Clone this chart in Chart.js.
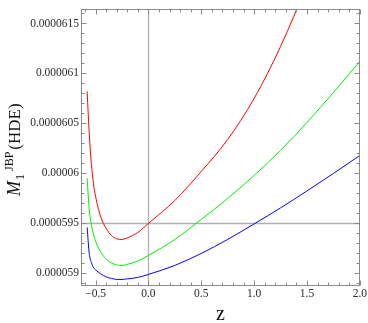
<!DOCTYPE html>
<html>
<head>
<meta charset="utf-8">
<script src="https://cdn.jsdelivr.net/npm/chart.js@4"></script>
<style>
  html, body { margin: 0; padding: 0; background: #fff; }
  canvas { display: block; }
</style>
</head>
<body>
<canvas id="chart" width="368" height="323"></canvas>
<script>
// ===== DATA =====
const zValues = [-0.58, -0.56, -0.54, -0.52, -0.5, -0.45, -0.4, -0.35, -0.3, -0.25, -0.2, -0.1,
                 0, 0.25, 0.5, 0.75, 1.0, 1.25, 1.5, 1.75, 2.0];

const redSeries = [6.082e-5, 6.040e-5, 6.010e-5, 5.990e-5, 5.977e-5, 5.956e-5, 5.945e-5, 5.938e-5,
                   5.9345e-5, 5.934e-5, 5.9355e-5, 5.941e-5, 5.950e-5, 5.973e-5, 6.002e-5, 6.034e-5,
                   6.075e-5, 6.127e-5, 6.190e-5, 6.265e-5, 6.350e-5];

const greenSeries = [5.995e-5, 5.964e-5, 5.949e-5, 5.939e-5, 5.932e-5, 5.921e-5, 5.9145e-5, 5.9105e-5,
                     5.9085e-5, 5.908e-5, 5.909e-5, 5.9125e-5, 5.918e-5, 5.934e-5, 5.954e-5, 5.975e-5,
                     5.998e-5, 6.023e-5, 6.051e-5, 6.081e-5, 6.112e-5];

const blueSeries = [5.946e-5, 5.920e-5, 5.911e-5, 5.906e-5, 5.9035e-5, 5.8995e-5, 5.8965e-5, 5.895e-5,
                    5.894e-5, 5.894e-5, 5.8945e-5, 5.896e-5, 5.899e-5, 5.908e-5, 5.920e-5, 5.934e-5,
                    5.9495e-5, 5.9655e-5, 5.9825e-5, 6.000e-5, 6.018e-5];

const xTickValues = [-0.5, 0, 0.5, 1, 1.5, 2];
const xTickLabels = ['\u22120.5', '0.0', '0.5', '1.0', '1.5', '2.0'];
const yTickValues = [5.9e-5, 5.95e-5, 6.0e-5, 6.05e-5, 6.1e-5, 6.15e-5];
const yTickLabels = ['0.000059', '0.0000595', '0.00006', '0.0000605', '0.000061', '0.0000615'];

// reference axes drawn through the plot
const axisZ = 0;
const axisM = 5.95e-5;

// ===== FRAME / TICKS / TITLES =====
const FRAME_COLOR = '#8a8a8a';
const SERIF = 'Liberation Serif';
Chart.defaults.font.family = SERIF;

function toPoints(values) {
    return zValues.map((z, i) => ({ x: z, y: values[i] }));
}

const framePlugin = {
    id: 'frame',
    beforeDatasetsDraw(chart) {
        const { ctx, chartArea: a, scales: { x, y } } = chart;
        ctx.save();
        ctx.strokeStyle = 'rgba(150,150,150,0.75)';
        ctx.lineWidth = 1.3;
        const px = Math.round(x.getPixelForValue(axisZ)) + 0.5;
        const py = Math.round(y.getPixelForValue(axisM)) + 0.5;
        ctx.beginPath();
        ctx.moveTo(px, a.top); ctx.lineTo(px, a.bottom);
        ctx.moveTo(a.left, py); ctx.lineTo(a.right, py);
        ctx.stroke();
        ctx.restore();
    },
    afterDraw(chart) {
        const { ctx, chartArea: a, scales: { x, y } } = chart;
        const L = Math.round(a.left) + 0.5, R = Math.round(a.right) - 0.5;
        const T = Math.round(a.top) + 0.5, B = Math.round(a.bottom) - 0.5;
        ctx.save();
        ctx.strokeStyle = FRAME_COLOR;
        ctx.lineWidth = 1;
        ctx.strokeRect(L, T, R - L, B - T);

        ctx.beginPath();
        // x ticks every 0.1, major every 0.5
        for (let i = -6; i <= 20; i++) {
            const p = Math.round(x.getPixelForValue(i / 10)) + 0.5;
            if (p < L || p > R + 1) continue;
            const len = i % 5 === 0 ? 5 : 3;
            ctx.moveTo(p, B); ctx.lineTo(p, B - len);
            ctx.moveTo(p, T); ctx.lineTo(p, T + len);
        }
        // y ticks every 1e-7, major every 5e-7
        for (let k = 588; k <= 617; k++) {
            const p = Math.round(y.getPixelForValue(k * 1e-7)) + 0.5;
            if (p < T || p > B) continue;
            const len = k % 5 === 0 ? 5 : 3;
            ctx.moveTo(L, p); ctx.lineTo(L + len, p);
            ctx.moveTo(R, p); ctx.lineTo(R - len, p);
        }
        ctx.stroke();

        // x title
        ctx.fillStyle = '#111';
        ctx.font = '20px "' + SERIF + '"';
        ctx.textAlign = 'center';
        ctx.textBaseline = 'alphabetic';
        ctx.fillText('z', (a.left + a.right) / 2, 320);

        // y title: M_1^JBP(HDE), rotated
        ctx.translate(20, 196);
        ctx.rotate(-Math.PI / 2);
        ctx.textAlign = 'left';
        ctx.font = 'italic 18px "' + SERIF + '"';
        ctx.fillText('M', 0, 0);
        let pos = ctx.measureText('M').width + 1;
        ctx.font = '12px "' + SERIF + '"';
        ctx.fillText('1', pos, 4);
        pos += ctx.measureText('1').width + 3;
        ctx.fillText('JBP', pos, -7);
        pos += ctx.measureText('JBP').width + 2;
        ctx.font = '17px "' + SERIF + '"';
        ctx.fillText('(HDE)', pos, 0);
        ctx.restore();
    }
};

// ===== CHART =====
const tickFont = { family: SERIF, size: 11.5 };

new Chart(document.getElementById('chart'), {
    type: 'line',
    data: {
        datasets: [
            { data: toPoints(redSeries), borderColor: '#ff0000' },
            { data: toPoints(greenSeries), borderColor: '#00ee00' },
            { data: toPoints(blueSeries), borderColor: '#0000ff' }
        ]
    },
    options: {
        responsive: false,
        animation: false,
        layout: { padding: { top: 1, right: 6, left: 0, bottom: 0 } },
        elements: {
            line: { borderWidth: 1, cubicInterpolationMode: 'monotone', fill: false },
            point: { radius: 0 }
        },
        plugins: {
            legend: { display: false },
            tooltip: { enabled: false }
        },
        scales: {
            x: {
                type: 'linear',
                min: -0.638,
                max: 2.0,
                grid: { display: false, drawTicks: false },
                border: { display: false },
                ticks: {
                    font: tickFont,
                    color: '#2a2a2a',
                    padding: 1,
                    autoSkip: false,
                    maxRotation: 0,
                    callback: (v, i) => xTickLabels[i]
                },
                afterBuildTicks: s => { s.ticks = xTickValues.map(v => ({ value: v })); },
                afterFit: s => { s.height = 37; }
            },
            y: {
                type: 'linear',
                min: 5.8874e-5,
                max: 6.1646e-5,
                grid: { display: false, drawTicks: false },
                border: { display: false },
                ticks: {
                    font: tickFont,
                    color: '#2a2a2a',
                    padding: 2,
                    autoSkip: false,
                    callback: (v, i) => yTickLabels[i]
                },
                afterBuildTicks: s => { s.ticks = yTickValues.map(v => ({ value: v })); },
                afterFit: s => { s.width = 81; }
            }
        }
    },
    plugins: [framePlugin]
});
</script>
</body>
</html>
